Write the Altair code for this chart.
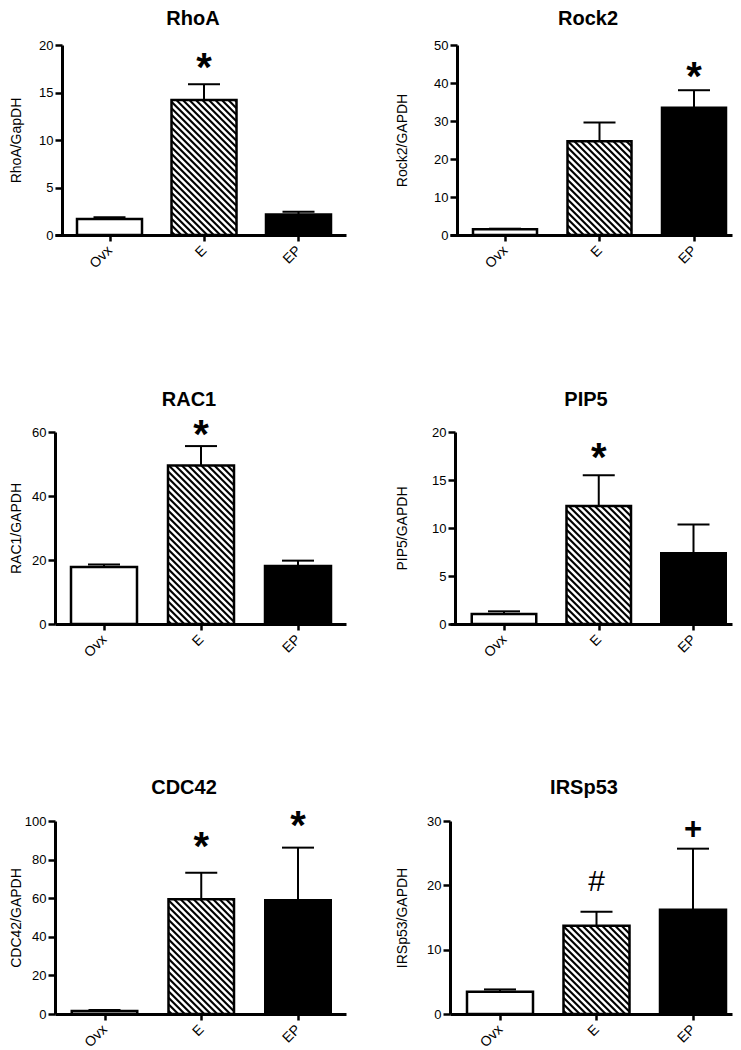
import json
import altair as alt
import pandas as pd

FONT = "Liberation Sans"

# ---------------- data ----------------
groups = ["Ovx", "E", "EP"]
genes = ["RhoA", "Rock2", "RAC1", "PIP5", "CDC42", "IRSp53"]
y_titles = ["RhoA/GapDH", "Rock2/GAPDH", "RAC1/GAPDH", "PIP5/GAPDH", "CDC42/GAPDH", "IRSp53/GAPDH"]
y_max = [20, 50, 60, 20, 100, 30]
y_tick_step = [5, 10, 20, 5, 20, 10]

rhoa_mean = [1.68, 14.2, 2.17]
rhoa_sem = [0.18, 1.67, 0.28]
rock2_mean = [1.5, 24.7, 33.5]
rock2_sem = [0.16, 4.9, 4.6]
rac1_mean = [17.8, 49.5, 18.1]
rac1_sem = [0.8, 6.1, 1.7]
pip5_mean = [1.04, 12.3, 7.37]
pip5_sem = [0.28, 3.2, 3.0]
cdc42_mean = [1.55, 59.4, 58.9]
cdc42_sem = [0.55, 13.8, 27.3]
irsp53_mean = [3.46, 13.7, 16.2]
irsp53_sem = [0.36, 2.2, 9.5]

means = [rhoa_mean, rock2_mean, rac1_mean, pip5_mean, cdc42_mean, irsp53_mean]
sems = [rhoa_sem, rock2_sem, rac1_sem, pip5_sem, cdc42_sem, irsp53_sem]

# significance marks (value = height of the symbol, in axis units)
annot_gene = ["RhoA", "Rock2", "RAC1", "PIP5", "CDC42", "CDC42", "IRSp53", "IRSp53"]
annot_group = ["E", "EP", "E", "E", "E", "EP", "E", "EP"]
annot_mark = ["*", "*", "*", "*", "*", "*", "#", "+"]
annot_y = [18.0, 42.7, 60.4, 17.7, 88.6, 99.5, 20.8, 28.9]

# ---------------- layout / style ----------------
layout = [
    dict(w=291, h=190, c0=54.5, step=94.5, bw=65, off=-7, tx=138, ty=-36, ytx=-53),
    dict(w=282, h=190, c0=55, step=94.5, bw=64, off=-7, tx=138, ty=-36, ytx=-61.5),
    dict(w=291, h=192, c0=49, step=97, bw=66, off=0, tx=134, ty=-42.5, ytx=-46),
    dict(w=282, h=192, c0=54, step=94.75, bw=64.5, off=-5, tx=136, ty=-42.5, ytx=-59.5),
    dict(w=291, h=193, c0=49.5, step=96.75, bw=65.5, off=0, tx=129, ty=-43.5, ytx=-46),
    dict(w=282, h=193, c0=50, step=96.5, bw=66, off=0, tx=134, ty=-43.5, ytx=-54.5),
]
HATCH_P = 6.5      # horizontal hatch period, px
CAP_HALF = 16      # half width of error cap, px
sym_style = {"*": (40, "bold", 5), "#": (30, "normal", 2), "+": (31, "bold", 2)}
label_expr = json.dumps(groups) + "[datum.value]"


def panel(k):
    L = layout[k]
    g = genes[k]
    ymax = y_max[k]
    step = L["step"]
    xs = alt.Scale(domain=[(0 - L["c0"]) / step, (L["w"] - L["c0"]) / step], nice=False, zero=False)
    ys = alt.Scale(domain=[0, ymax], nice=False, zero=False)
    hw = L["bw"] / 2 / step
    cw = CAP_HALF / step
    idx = list(range(len(groups)))
    df = pd.DataFrame({
        "group": groups,
        "idx": idx,
        "mean": means[k],
        "top": [m + s for m, s in zip(means[k], sems[k])],
        "x_lo": [i - hw for i in idx],
        "x_hi": [i + hw for i in idx],
        "cap_lo": [i - cw for i in idx],
        "cap_hi": [i + cw for i in idx],
        "base": [0.0] * len(groups),
    })

    # hatch segments for the "E" bar, derived from its value through the scales
    ppu = L["h"] / ymax
    ie = groups.index("E")
    Hpx = means[k][ie] * ppu
    W = L["bw"]
    left = ie - hw
    segs = []
    c = HATCH_P / 2
    while c < W + Hpx:
        u1 = max(0.0, c - Hpx)
        u2 = min(W, c)
        if u2 > u1:
            segs.append((left + u1 / step, (c - u1) / ppu, left + u2 / step, (c - u2) / ppu))
        c += HATCH_P
    hdf = pd.DataFrame(segs, columns=["hx1", "hy1", "hx2", "hy2"])

    xaxis = alt.Axis(values=idx, labelExpr=label_expr, labelAngle=315, labelAlign="right",
                     labelBaseline="middle", title=None, labelFlush=False, labelOverlap=False)
    yaxis = alt.Axis(values=list(range(0, ymax + 1, y_tick_step[k])), title=y_titles[k],
                     titleX=L["ytx"], titleY=L["h"] / 2, titleBaseline="top", titleAlign="center",
                     titleAngle=270, offset=L["off"], format="d", labelOverlap=False)

    def X(f):
        return alt.X(f, type="quantitative", scale=xs, axis=xaxis)

    def Y(f):
        return alt.Y(f, type="quantitative", scale=ys, axis=yaxis)

    base = alt.Chart(df)
    fill = base.mark_rect(strokeWidth=0).encode(
        x=X("x_lo"), x2="x_hi", y=Y("base"), y2="mean",
        fill=alt.Fill("group:N", scale=alt.Scale(domain=groups, range=["white", "white", "black"]), legend=None),
    )
    hatch = alt.Chart(hdf).mark_rule(strokeWidth=2.1, color="black").encode(
        x=X("hx1"), x2="hx2", y=Y("hy1"), y2="hy2",
    )
    err_v = base.mark_rule(strokeWidth=2, color="black").encode(
        x=X("idx"), y=Y("mean"), y2="top",
    )
    err_cap = base.mark_rule(strokeWidth=2, color="black").encode(
        x=X("cap_lo"), x2="cap_hi", y=Y("top"),
    )
    outline = base.mark_rect(fillOpacity=0, stroke="black", strokeWidth=2.5).encode(
        x=X("x_lo"), x2="x_hi", y=Y("base"), y2="mean",
    )
    layers = [fill, hatch, err_v, err_cap, outline]

    rows = [(gr, m, y) for gg, gr, m, y in zip(annot_gene, annot_group, annot_mark, annot_y) if gg == g]
    for sym in sym_style:
        sub = [r for r in rows if r[1] == sym]
        if not sub:
            continue
        adf = pd.DataFrame({"idx": [groups.index(r[0]) for r in sub],
                            "mark": [r[1] for r in sub], "y": [r[2] for r in sub]})
        fs, fw, dy = sym_style[sym]
        layers.append(alt.Chart(adf).mark_text(font=FONT, fontSize=fs, fontWeight=fw, baseline="middle",
                                               align="center", dy=dy, color="black").encode(
            x=X("idx"), y=Y("y"), text="mark:N",
        ))

    title = alt.Chart(pd.DataFrame({"t": [g]})).mark_text(
        font=FONT, fontSize=20, fontWeight="bold", baseline="top", align="center", color="black"
    ).encode(text="t:N", x=alt.value(L["tx"]), y=alt.value(L["ty"]))
    layers.append(title)

    return alt.layer(*layers).properties(width=L["w"], height=L["h"])


panels = [panel(k) for k in range(len(genes))]

chart = alt.concat(
    *panels, columns=2, spacing={"row": 197, "column": 104}, bounds="flush", align="each"
).properties(
    padding={"top": 0, "left": 0, "right": 0, "bottom": 0}
).configure(font=FONT).configure_view(stroke="transparent").configure_axis(
    domainColor="black", domainWidth=3, tickColor="black", tickWidth=2.5, tickSize=7,
    labelColor="black", labelFont=FONT, labelFontSize=13, labelPadding=2,
    titleFont=FONT, titleFontSize=14, titleFontWeight="normal", titleColor="black", grid=False,
).configure_axisX(tickSize=6, labelFontSize=14, labelPadding=7)

chart.save("out.html", embed_options={"renderer": "svg", "actions": False})
